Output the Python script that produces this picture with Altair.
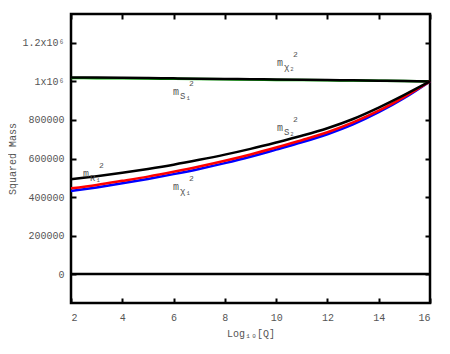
import altair as alt
import pandas as pd

# ---- data ----
log_q = [2, 3, 4, 5, 6, 7, 8, 9, 10, 11, 12, 13, 14, 15, 16]
m_s1 = [1021000, 1019800, 1018500, 1017200, 1016000, 1014500, 1013000, 1011500,
        1010000, 1008500, 1007000, 1005500, 1004000, 1002000, 1000000]
m_chi2 = [1018000, 1017000, 1016000, 1014800, 1013500, 1012200, 1011000, 1009500,
          1008000, 1006800, 1005500, 1004200, 1003000, 1001800, 1000500]
m_s2 = [492000, 508000, 526000, 546000, 568000, 593000, 620000, 650000,
        683000, 718000, 757000, 805000, 864000, 930000, 1000000]
m_r1 = [445000, 463000, 484000, 506000, 531000, 558000, 588000, 621000,
        657000, 695000, 736000, 787000, 848000, 920000, 1000000]
m_chi1 = [431000, 450000, 471000, 494000, 519000, 546000, 576000, 609000,
          646000, 684000, 726000, 777000, 840000, 914000, 1000000]
m_zero = [0] * 15

series_names = ["zero", "chi2", "S1", "chi1", "R1", "S2"]
series_vals = [m_zero, m_chi2, m_s1, m_chi1, m_r1, m_s2]
series_colors = ["#000000", "#00b000", "#000000", "#0000ff", "#ff0000", "#000000"]

x_ticks = [2, 4, 6, 8, 10, 12, 14, 16]
y_ticks = [0, 200000, 400000, 600000, 800000, 1000000, 1200000]

label_x = [10.03, 5.98, 10.03, 5.98, 2.47]
label_y = [1080000, 929000, 743000, 436000, 504000]
label_sub = ["χ₂", "S₁", "S₂", "χ₁", "R₁"]

FONT = "Courier New, Liberation Mono, monospace"
GREY = "#555555"

rows = []
for name, vals in zip(series_names, series_vals):
    for xv, yv in zip(log_q, vals):
        rows.append({"x": xv, "y": yv, "series": name})
df = pd.DataFrame(rows)
lab = pd.DataFrame({"x": label_x, "y": label_y, "sub": label_sub})

xs = alt.Scale(domain=[2, 16], nice=False, zero=False)
ys = alt.Scale(domain=[-150000, 1350000], nice=False, zero=False)

base = alt.Chart(df)

# main axes: labels and titles
main_axes = base.mark_line(opacity=0).encode(
    x=alt.X("x:Q", scale=xs, axis=alt.Axis(
        values=x_ticks, ticks=False, tickSize=0, domain=False, grid=False,
        labelPadding=9, labelFont=FONT, labelFontSize=10, labelColor=GREY,
        title="Log₁₀[Q]", titleFont=FONT, titleFontSize=10, titleColor=GREY,
        titleFontWeight="normal", titleY=30, titleBaseline="middle")),
    y=alt.Y("y:Q", scale=ys, axis=alt.Axis(
        values=y_ticks, ticks=False, tickSize=0, domain=False, grid=False,
        format="d",
        labelExpr="datum.value >= 1000000 ? (datum.value/1000000) + 'x10⁶' : datum.label",
        labelPadding=7, labelFont=FONT, labelFontSize=10, labelColor=GREY,
        title="Squared Mass", titleFont=FONT, titleFontSize=10, titleColor=GREY,
        titleFontWeight="normal", titleX=-59, titleBaseline="middle")),
)

def tick_axis(orient, values):
    return alt.Axis(orient=orient, values=values, offset=-5, tickSize=5, tickWidth=2,
                    tickColor="black", labels=False, domain=False, grid=False, title=None)

ticks_a = base.mark_line(opacity=0).encode(
    x=alt.X("x:Q", scale=xs, axis=tick_axis("bottom", x_ticks)),
    y=alt.Y("y:Q", scale=ys, axis=tick_axis("left", y_ticks)),
)
ticks_b = base.mark_line(opacity=0).encode(
    x=alt.X("x:Q", scale=xs, axis=tick_axis("top", x_ticks)),
    y=alt.Y("y:Q", scale=ys, axis=tick_axis("right", y_ticks)),
)

line_layers = []
for name, col in zip(series_names, series_colors):
    line_layers.append(
        base.transform_filter(alt.datum.series == name)
        .mark_line(strokeWidth=2.5, interpolate="monotone", color=col)
        .encode(x=alt.X("x:Q", scale=xs, axis=None), y=alt.Y("y:Q", scale=ys, axis=None))
    )

tbase = alt.Chart(lab).encode(
    x=alt.X("x:Q", scale=xs, axis=None), y=alt.Y("y:Q", scale=ys, axis=None))
t_m = tbase.mark_text(font=FONT, fontSize=10, color=GREY, fill=GREY, align="left",
                      baseline="alphabetic").encode(text=alt.value("m"))
t_sub = tbase.mark_text(font=FONT, fontSize=9, color=GREY, fill=GREY, align="left",
                        baseline="alphabetic", dx=7, dy=4).encode(text="sub:N")
t_sup = tbase.mark_text(font=FONT, fontSize=8, color=GREY, fill=GREY, align="left",
                        baseline="alphabetic", dx=16, dy=-9).encode(text=alt.value("2"))

chart = alt.layer(main_axes, ticks_a, ticks_b, *line_layers, t_m, t_sub, t_sup).resolve_axis(
    x="independent", y="independent"
).properties(
    width=359, height=289,
    autosize=alt.AutoSizeParams(type="none"),
    padding={"left": 63, "top": 6, "right": 12, "bottom": 43},
).configure_view(stroke="black", strokeWidth=2.5)

chart.save("out.html", embed_options={"renderer": "svg", "actions": False})
